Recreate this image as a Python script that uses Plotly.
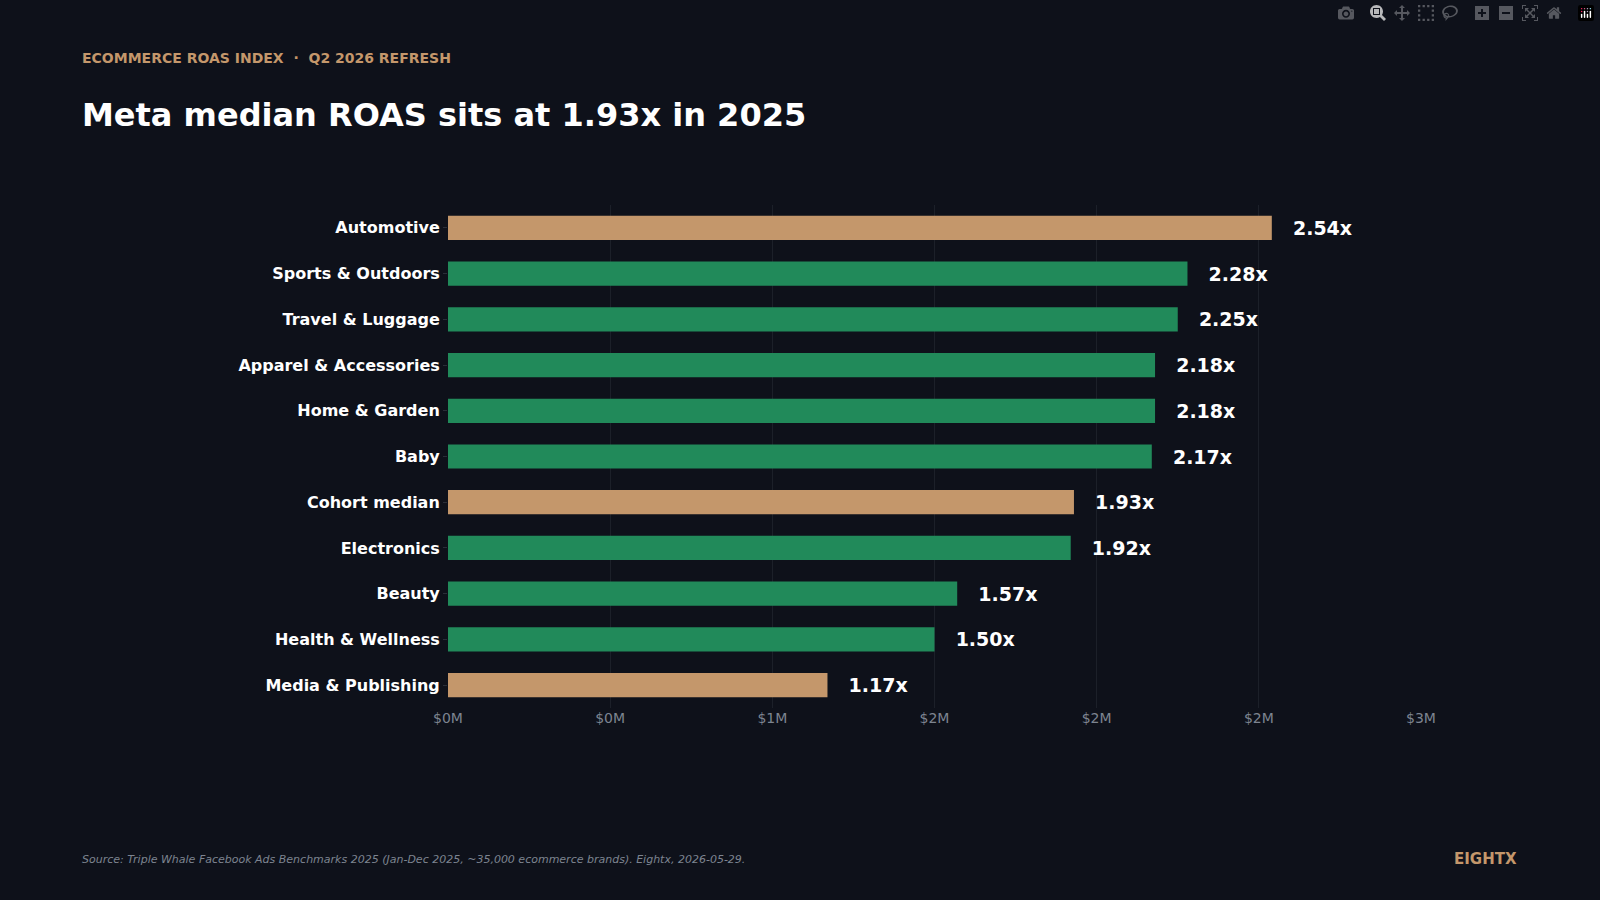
import plotly.graph_objects as go

categories = ['Automotive', 'Sports & Outdoors', 'Travel & Luggage', 'Apparel & Accessories',
              'Home & Garden', 'Baby', 'Cohort median', 'Electronics', 'Beauty',
              'Health & Wellness', 'Media & Publishing']
roas = [2.54, 2.28, 2.25, 2.18, 2.18, 2.17, 1.93, 1.92, 1.57, 1.50, 1.17]
highlight = ['Automotive', 'Cohort median', 'Media & Publishing']
tick_vals = [0, 0.5, 1.0, 1.5, 2.0, 2.5, 3.0]
tick_text = ['$0M', '$0M', '$1M', '$2M', '$2M', '$2M', '$3M']

BG = '#0e111a'
GOLD = '#c4976b'
GREEN = '#218a5a'

L, R, T, B = 448, 179, 205, 192

colors = [GOLD if c in highlight else GREEN for c in categories]

fig = go.Figure(go.Bar(
    y=categories, x=roas, orientation='h',
    marker=dict(color=colors, line=dict(width=0)),
    width=0.53,
    text=[f'   <b>{v:.2f}x</b>' for v in roas], textposition='outside',
    textfont=dict(color='#ffffff', size=19, family='DejaVu Sans'),
    cliponaxis=False, hoverinfo='skip',
))

fig.update_layout(
    width=1600, height=900,
    paper_bgcolor=BG, plot_bgcolor=BG,
    margin=dict(l=L, r=R, t=T, b=B),
    showlegend=False,
    font=dict(family='DejaVu Sans', color='#ffffff'),
    xaxis=dict(range=[0, 3.0], tickvals=tick_vals, ticktext=tick_text,
               showgrid=True, gridcolor='#1c2029', gridwidth=1, zeroline=False,
               tickfont=dict(color='#7d8490', size=14), ticks='', showline=False),
    yaxis=dict(autorange='reversed', tickfont=dict(color='#ffffff', size=16, family='DejaVu Sans'),
               ticks='outside', ticklen=4, tickcolor='#2a2e38', showgrid=False,
               tickprefix='<b>', ticksuffix='</b>'),
    bargap=0.47,
)


def px_to_paper(x, y):
    return (x - L) / (1600 - L - R), (900 - y - B) / (900 - T - B)


def note(text, x, y, size, color, anchor='left'):
    px, py = px_to_paper(x, y)
    fig.add_annotation(text=text, x=px, y=py, xref='paper', yref='paper', showarrow=False,
                       xanchor=anchor, yanchor='middle', font=dict(color=color, size=size))


note('<b>ECOMMERCE ROAS INDEX  ·  Q2 2026 REFRESH</b>', 80, 58, 14, GOLD)
note('<b>Meta median ROAS sits at 1.93x in 2025</b>', 80, 115, 32, '#ffffff')
note('<i>Source: Triple Whale Facebook Ads Benchmarks 2025 (Jan-Dec 2025, ~35,000 ecommerce brands). Eightx, 2026-05-29.</i>',
     80, 860, 11, '#7d8490')
note('<b>EIGHTX</b>', 1519, 859, 15, GOLD, anchor='right')

fig.write_html('out.html', post_script="document.body.style.margin='0';document.body.style.background='#0e111a';")
